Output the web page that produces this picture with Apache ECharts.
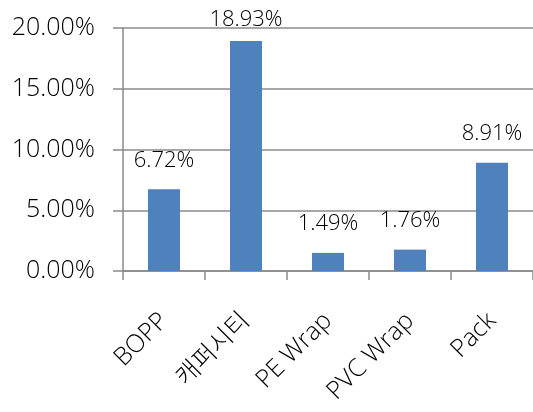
<!DOCTYPE html>
<html>
<head>
<meta charset="utf-8">
<script src="https://cdn.jsdelivr.net/npm/echarts@6/dist/echarts.min.js"></script>
<style>
  html, body { margin: 0; padding: 0; background: #fff; }
  #chart { width: 533px; height: 412px; }
</style>
</head>
<body>
<div id="chart"></div>
<script>
// Market share by product line (%)
const categories = ['BOPP', '캐퍼시티', 'PE Wrap', 'PVC Wrap', 'Pack'];
const shares = [6.72, 18.93, 1.49, 1.76, 8.91];
const yTicks = [0, 5, 10, 15, 20];

const FONT = '"Open Sans", "Noto Sans CJK KR", sans-serif';
const GRID_COLOR = '#8a8a8a';

const chart = echarts.init(document.getElementById('chart'), null, { renderer: 'canvas' });

chart.setOption({
  animation: false,
  grid: { left: 123, right: 0, top: 28, bottom: 141, containLabel: false },
  xAxis: {
    type: 'category',
    data: categories,
    axisLine: { lineStyle: { color: GRID_COLOR, width: 1.5 } },
    axisTick: { show: true, length: 9, alignWithLabel: false, lineStyle: { color: GRID_COLOR, width: 1.5 } },
    axisLabel: {
      rotate: 45,
      interval: 0,
      margin: 46,
      color: '#000',
      fontFamily: FONT,
      fontWeight: 300,
      fontSize: 25
    }
  },
  yAxis: {
    type: 'value',
    min: yTicks[0],
    max: yTicks[yTicks.length - 1],
    interval: 5,
    axisLine: { show: true, lineStyle: { color: GRID_COLOR, width: 1.5 } },
    axisTick: { show: true, inside: false, length: 10, lineStyle: { color: GRID_COLOR, width: 1.5 } },
    splitLine: { show: true, lineStyle: { color: GRID_COLOR, width: 1.5 } },
    axisLabel: {
      margin: 28,
      color: '#000',
      fontFamily: FONT,
      fontWeight: 300,
      fontSize: 25,
      formatter: v => v.toFixed(2) + '%'
    }
  },
  series: [{
    type: 'bar',
    data: shares.map((v, i) => i === 1
      ? { value: v, label: { distance: 10 } }
      : v),
    barWidth: '39%',
    itemStyle: { color: '#4f81bd' },
    label: {
      show: true,
      position: 'top',
      distance: 18,
      color: '#000',
      fontFamily: FONT,
      fontWeight: 300,
      fontSize: 22,
      formatter: p => p.value.toFixed(2) + '%'
    }
  }]
});
</script>
</body>
</html>
